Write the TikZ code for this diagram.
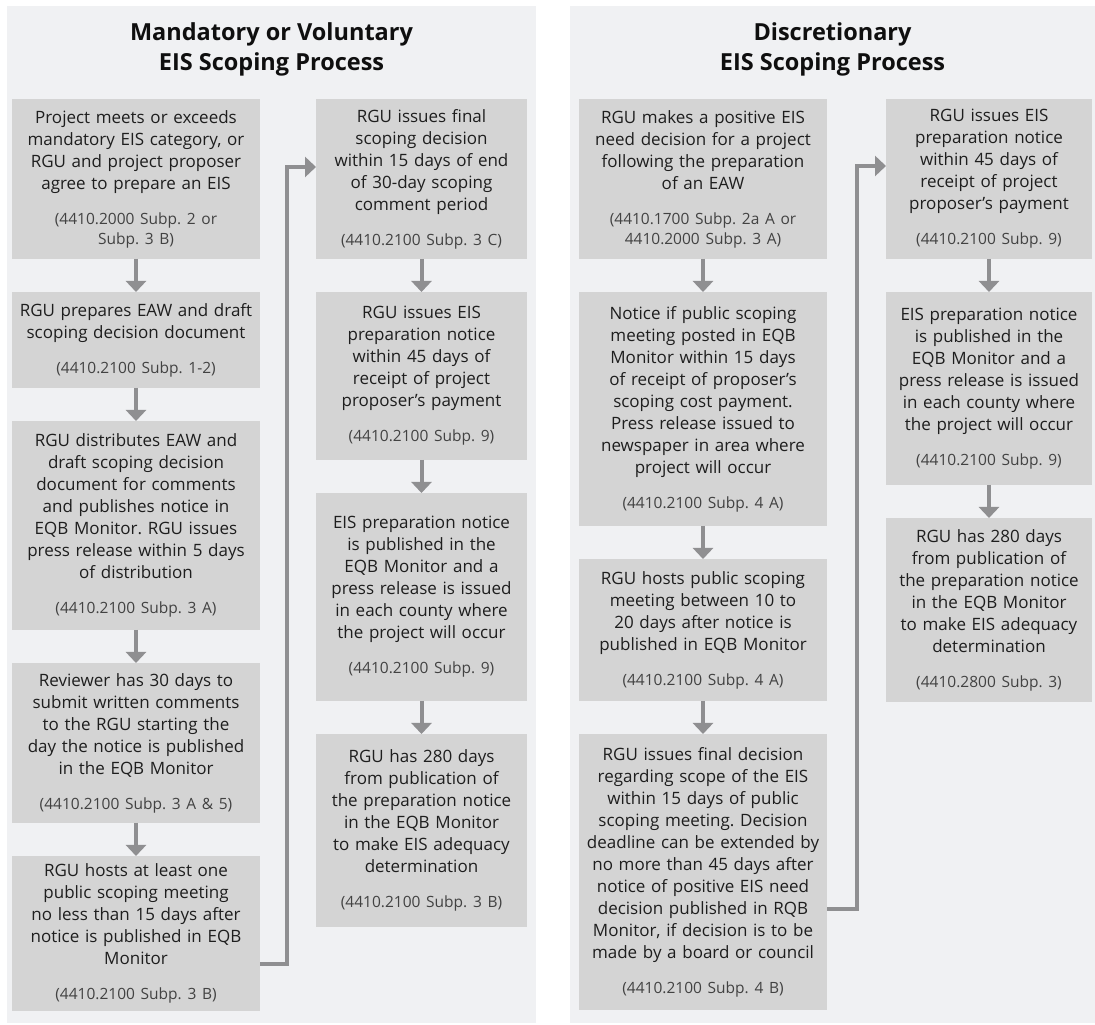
\documentclass[tikz,border=0pt]{standalone}
\usepackage{fontspec}
\setmainfont{Open Sans}
\usepackage{tikz}
\usetikzlibrary{positioning,arrows.meta}

\definecolor{panelgray}{RGB}{240,241,243}
\definecolor{boxgray}{RGB}{212,212,212}
\definecolor{arrowgray}{RGB}{143,143,145}
\definecolor{maingray}{RGB}{30,30,30}
\definecolor{refgray}{RGB}{66,66,66}
\definecolor{titleblack}{RGB}{15,15,15}

\newcommand\mainsize{\fontsize{17pt}{22pt}\selectfont}
\newcommand\refsize{\fontsize{15.5pt}{20pt}\selectfont}
\newcommand\titlesize{\fontsize{23.5pt}{30pt}\selectfont\bfseries}
\newcommand\statref[1]{\par\vspace{15pt}{\refsize\color{refgray}#1\par}}
\frenchspacing

\begin{document}
\begin{tikzpicture}[
        x=1pt, y=1pt,
        node distance=33pt,
        >={Triangle[width=20pt,length=11pt]},
        flow/.style={rectangle, fill=boxgray, text=maingray, align=center, inner xsep=6pt, inner ysep=4pt, outer sep=0pt, font=\mainsize},
        wide/.style={flow, text width=236pt},
        slimA/.style={flow, text width=199pt},
        slimB/.style={flow, text width=194pt},
        heading/.style={align=center, text=titleblack, font=\titlesize},
        arrow/.style={->, line width=4pt, draw=arrowgray}
    ]
    \useasboundingbox (0,0) rectangle (1095,1025);
    \fill[panelgray] (7,2) rectangle (536,1019);
    \fill[panelgray] (570,2) rectangle (1095,1019);

    \node[heading] (mt) at (271.5,975.5) {Mandatory or Voluntary\\EIS Scoping Process};
    \node[heading] (dt) at (832.5,975.5) {Discretionary\\EIS Scoping Process};

    \node[wide, minimum height=160pt, anchor=north west] (m1) at (12,926) {Project meets or exceeds\\mandatory EIS category, or\\RGU and project proposer\\agree to prepare an EIS\statref{(4410.2000 Subp. 2 or\\Subp. 3 B)}};
    \node[wide, minimum height=96pt, below=of m1] (m2) {RGU prepares EAW and draft\\scoping decision document\statref{(4410.2100 Subp. 1-2)}};
    \node[wide, minimum height=209pt, below=of m2] (m3) {RGU distributes EAW and\\draft scoping decision\\document for comments\\and publishes notice in\\EQB Monitor. RGU issues\\press release within 5 days\\of distribution\statref{(4410.2100 Subp. 3 A)}};
    \node[wide, minimum height=160pt, below=of m3] (m4) {Reviewer has 30 days to\\submit written comments\\to the RGU starting the\\day the notice is published\\in the EQB Monitor\statref{(4410.2100 Subp. 3 A \& 5)}};
    \node[wide, minimum height=155pt, below=of m4] (m5) {RGU hosts at least one\\public scoping meeting\\no less than 15 days after\\notice is published in EQB\\Monitor\statref{(4410.2100 Subp. 3 B)}};

    \node[slimA, minimum height=160pt, anchor=north west] (m6) at (316,926) {RGU issues final\\scoping decision\\within 15 days of end\\of 30-day scoping\\comment period\statref{(4410.2100 Subp. 3 C)}};
    \node[slimA, minimum height=168pt, below=of m6] (m7) {RGU issues EIS\\preparation notice\\within 45 days of\\receipt of project\\proposer’s payment\statref{(4410.2100 Subp. 9)}};
    \node[slimA, minimum height=208pt, below=of m7] (m8) {EIS preparation notice\\is published in the\\EQB Monitor and a\\press release is issued\\in each county where\\the project will occur\statref{(4410.2100 Subp. 9)}};
    \node[slimA, minimum height=193pt, below=of m8] (m9) {RGU has 280 days\\from publication of\\the preparation notice\\in the EQB Monitor\\to make EIS adequacy\\determination\statref{(4410.2100 Subp. 3 B)}};

    \node[wide, minimum height=160pt, anchor=north west] (d1) at (579,926) {RGU makes a positive EIS\\need decision for a project\\following the preparation\\of an EAW\statref{(4410.1700 Subp. 2a A or\\4410.2000 Subp. 3 A)}};
    \node[wide, minimum height=234pt, below=of d1] (d2) {Notice if public scoping\\meeting posted in EQB\\Monitor within 15 days\\of receipt of proposer’s\\scoping cost payment.\\Press release issued to\\newspaper in area where\\project will occur\statref{(4410.2100 Subp. 4 A)}};
    \node[wide, minimum height=142pt, below=of d2] (d3) {RGU hosts public scoping\\meeting between 10 to\\20 days after notice is\\published in EQB Monitor\statref{(4410.2100 Subp. 4 A)}};
    \node[wide, minimum height=276pt, below=of d3] (d4) {RGU issues final decision\\regarding scope of the EIS\\within 15 days of public\\scoping meeting. Decision\\deadline can be extended by\\no more than 45 days after\\notice of positive EIS need\\decision published in RQB\\Monitor, if decision is to be\\made by a board or council\statref{(4410.2100 Subp. 4 B)}};

    \node[slimB, minimum height=160pt, anchor=north west] (d5) at (886,926) {RGU issues EIS\\preparation notice\\within 45 days of\\receipt of project\\proposer’s payment\statref{(4410.2100 Subp. 9)}};
    \node[slimB, minimum height=193pt, below=of d5] (d6) {EIS preparation notice\\is published in the\\EQB Monitor and a\\press release is issued\\in each county where\\the project will occur\statref{(4410.2100 Subp. 9)}};
    \node[slimB, minimum height=184pt, below=of d6] (d7) {RGU has 280 days\\from publication of\\the preparation notice\\in the EQB Monitor\\to make EIS adequacy\\determination\statref{(4410.2800 Subp. 3)}};

    \draw[arrow] (m1) -- (m2);
    \draw[arrow] (m2) -- (m3);
    \draw[arrow] (m3) -- (m4);
    \draw[arrow] (m4) -- (m5);
    \draw[arrow] ([yshift=-30.5pt]m5.east) -- ++(27pt,0) |- ([yshift=12pt]m6.west);
    \draw[arrow] (m6) -- (m7);
    \draw[arrow] (m7) -- (m8);
    \draw[arrow] (m8) -- (m9);

    \draw[arrow] (d1) -- (d2);
    \draw[arrow] (d2) -- (d3);
    \draw[arrow] (d3) -- (d4);
    \draw[arrow] ([yshift=-37pt]d4.east) -- ++(30pt,0) |- ([yshift=13pt]d5.west);
    \draw[arrow] (d5) -- (d6);
    \draw[arrow] (d6) -- (d7);
    \end{tikzpicture}
\end{document}
